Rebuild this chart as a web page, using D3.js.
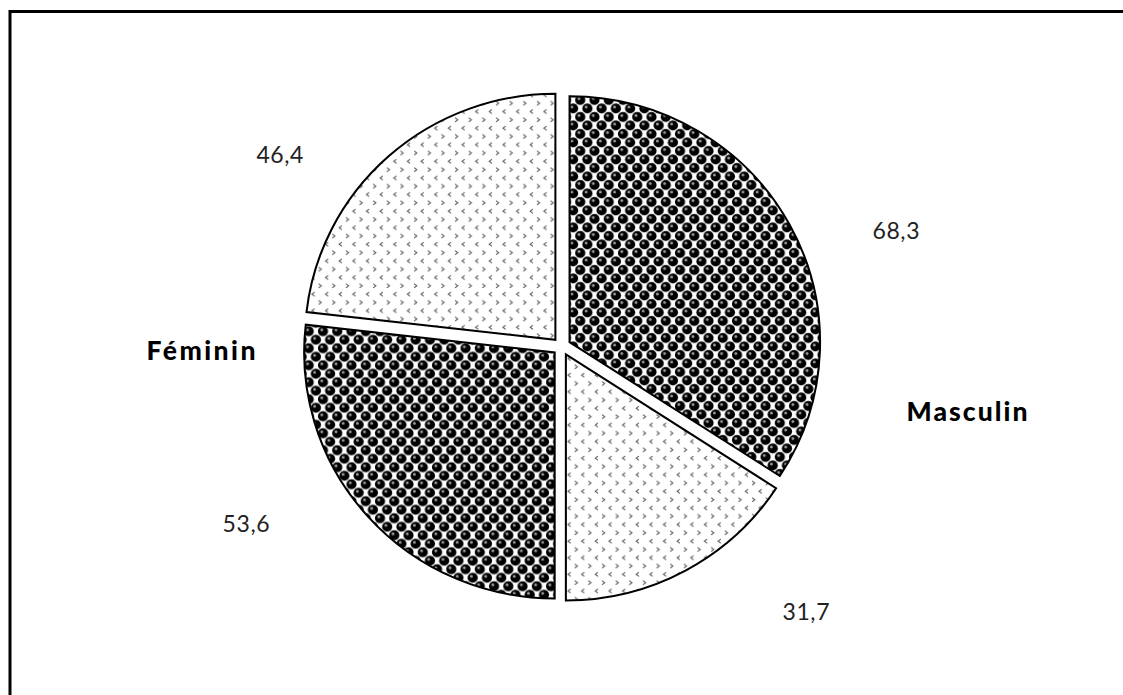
<!DOCTYPE html>
<html>
<head>
<meta charset="utf-8">
<script src="https://cdn.jsdelivr.net/npm/d3@7"></script>
<style>
  html, body { margin: 0; padding: 0; background: #fff; overflow: hidden; }
  svg { display: block; }
</style>
</head>
<body>
<svg id="chart" width="1123" height="695"></svg>
<script>
// ---- data ----
const categories = ["Masculin", "Féminin"];
const sliceGroups = ["Masculin", "Masculin", "Féminin", "Féminin"];
const values = [68.3, 31.7, 53.6, 46.4];
const valueLabels = ["68,3", "31,7", "53,6", "46,4"];

// ---- styles / layout ----
const slicePatterns = ["sphere", "chevron", "sphere", "chevron"];
const W = 1123, H = 695;
const cx = 561.5, cy = 346.5;
const radius = 246, sx = 250.5 / 246;
const explode = 9;
// value label placement: [angle in degrees clockwise from top, distance]
const valueLabelPolar = [[70.9, 354], [137.3, 360.5], [240.6, 362], [304.2, 340.5]];
// category label offsets from the pie centre
const categoryOffsets = { "Masculin": [405.5, 65], "Féminin": [-360.5, 4] };
const categoryWidths = { "Masculin": 121, "Féminin": 109 };

const svg = d3.select("#chart");
svg.append("rect").attr("width", W).attr("height", H).attr("fill", "#fff");

// patterns
const defs = svg.append("defs");
const pw = 14, ph = 17;
const sp = defs.append("pattern").attr("id", "sphere")
  .attr("patternUnits", "userSpaceOnUse").attr("width", pw).attr("height", ph);
sp.append("rect").attr("width", pw).attr("height", ph).attr("fill", "#fff");
[[pw / 4, ph / 4], [3 * pw / 4, 3 * ph / 4], [pw / 4 + pw, ph / 4], [pw / 4 - pw, ph / 4 + ph],
 [3 * pw / 4 - pw, 3 * ph / 4], [3 * pw / 4, 3 * ph / 4 - ph], [pw / 4, ph / 4 + ph], [3 * pw / 4 - pw, 3 * ph / 4 - ph]]
  .forEach(([x, y]) => {
    sp.append("circle").attr("cx", x).attr("cy", y).attr("r", 5).attr("fill", "#000");
    sp.append("circle").attr("cx", x - 1.2).attr("cy", y - 1.3).attr("r", 1.4).attr("fill", "#a0a0a0");
  });

const cw = 13.4, ch = 16.6;
const cp = defs.append("pattern").attr("id", "chevron")
  .attr("patternUnits", "userSpaceOnUse").attr("width", cw).attr("height", ch);
cp.append("rect").attr("width", cw).attr("height", ch).attr("fill", "#fff");
cp.append("path").attr("d", `M${cw / 4 + 1.4},${ch / 4 - 2} L${cw / 4 - 1.3},${ch / 4} L${cw / 4 + 1.4},${ch / 4 + 2}`)
  .attr("fill", "none").attr("stroke", "#555").attr("stroke-width", 1);
cp.append("path").attr("d", `M${3 * cw / 4 - 1.4},${3 * ch / 4 - 2} L${3 * cw / 4 + 1.3},${3 * ch / 4} L${3 * cw / 4 - 1.4},${3 * ch / 4 + 2}`)
  .attr("fill", "none").attr("stroke", "#555").attr("stroke-width", 1);

// frame: only top and left edges visible in the reference
svg.append("path").attr("d", `M10,${H + 10} L10,11.5 L${W + 10},11.5`)
  .attr("fill", "none").attr("stroke", "#000").attr("stroke-width", 3).attr("stroke-linecap", "square");

// pie
const pie = d3.pie().sort(null).value(d => d);
const arcs = pie(values);
const arc = d3.arc().innerRadius(0).outerRadius(radius);

const g = svg.append("g").attr("transform", `translate(${cx},${cy}) scale(${sx},1)`);
g.selectAll("path.slice").data(arcs).enter().append("path")
  .attr("class", "slice")
  .attr("transform", d => {
    const m = (d.startAngle + d.endAngle) / 2;
    return `translate(${explode * Math.sin(m)},${-explode * Math.cos(m)})`;
  })
  .attr("d", arc)
  .attr("fill", (d, i) => `url(#${slicePatterns[i]})`)
  .attr("stroke", "#000").attr("stroke-width", 2).attr("stroke-linejoin", "miter");

// value labels
const font = "Lato, 'Open Sans', sans-serif";
svg.selectAll("text.val").data(arcs).enter().append("text")
  .attr("class", "val")
  .attr("x", (d, i) => cx + valueLabelPolar[i][1] * Math.sin(valueLabelPolar[i][0] * Math.PI / 180))
  .attr("y", (d, i) => cy - valueLabelPolar[i][1] * Math.cos(valueLabelPolar[i][0] * Math.PI / 180))
  .attr("dy", "0.36em")
  .attr("text-anchor", "middle")
  .attr("font-family", font).attr("font-size", 23).attr("fill", "#222")
  .attr("textLength", 47).attr("lengthAdjust", "spacing")
  .text((d, i) => valueLabels[i]);

// category labels
svg.selectAll("text.cat").data(categories).enter().append("text")
  .attr("class", "cat")
  .attr("x", d => cx + categoryOffsets[d][0])
  .attr("y", d => cy + categoryOffsets[d][1])
  .attr("dy", "0.36em")
  .attr("text-anchor", "middle")
  .attr("font-family", font).attr("font-size", 26.5).attr("font-weight", 900).attr("fill", "#000")
  .attr("textLength", d => categoryWidths[d]).attr("lengthAdjust", "spacing")
  .text(d => d);
</script>
</body>
</html>
